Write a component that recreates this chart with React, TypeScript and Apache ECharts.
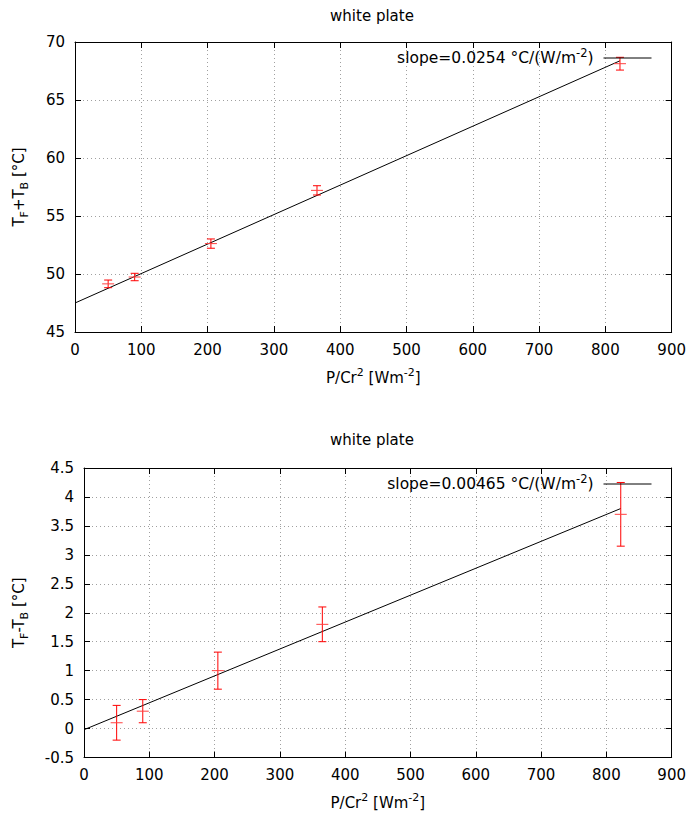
import React, { useEffect, useRef } from 'react';
import * as echarts from 'echarts';

// ---- data ----
const chartTitle = 'white plate';
const xPower = [50, 90, 205, 365, 822];
const sumValues = [49.15, 49.74, 52.62, 57.21, 68.13];
const sumErrors = [0.33, 0.32, 0.4, 0.4, 0.55];
const diffValues = [0.1, 0.3, 1.0, 1.8, 3.7];
const diffErrors = [0.3, 0.2, 0.32, 0.3, 0.55];
const fitX = [0, 822];
const sumFitY = [47.5, 68.38];
const diffFitY = [-0.02, 3.8];
const sumSlope = '0.0254';
const diffSlope = '0.00465';
const xRange = [0, 900, 100];
const sumRange = [45, 70, 5];
const diffRange = [-0.5, 4.5, 0.5];

const FONT = 'DejaVu Sans';
const FS = 15;
const RED = '#ff0000';

const richStyles = {
  sub: { fontSize: 11, fontFamily: FONT, color: '#000', verticalAlign: 'bottom' as const },
  sup: { fontSize: 11, fontFamily: FONT, color: '#000', verticalAlign: 'top' as const },
};

const nameStyle = {
  fontSize: FS,
  fontFamily: FONT,
  color: '#000',
  lineHeight: 22,
  rich: richStyles,
};

const axisLineStyle = { show: true, onZero: false, lineStyle: { color: '#000', width: 1 } };
const tickStyle = { show: true, inside: true, length: 6, lineStyle: { color: '#000', width: 1 } };
const labelStyle = { show: true, margin: 10, color: '#000', fontFamily: FONT, fontSize: FS };
const gridLineStyle = { show: true, lineStyle: { color: '#a0a0a0', width: 1, type: [1, 3] as number[] } };

function mainX(gridIndex: number, nameGap: number) {
  return {
    type: 'value', gridIndex, position: 'bottom',
    min: xRange[0], max: xRange[1], interval: xRange[2],
    name: 'P/Cr{sup|2} [Wm{sup|-2}]', nameLocation: 'middle', nameGap, nameTextStyle: nameStyle,
    axisLine: axisLineStyle, axisTick: tickStyle, axisLabel: labelStyle, splitLine: gridLineStyle,
  };
}
function mirrorX(gridIndex: number) {
  return {
    type: 'value', gridIndex, position: 'top',
    min: xRange[0], max: xRange[1], interval: xRange[2],
    axisLine: axisLineStyle, axisTick: tickStyle, axisLabel: { show: false }, splitLine: { show: false },
  };
}
function mainY(gridIndex: number, range: number[], name: string, nameGap: number) {
  return {
    type: 'value', gridIndex, position: 'left',
    min: range[0], max: range[1], interval: range[2],
    name, nameLocation: 'middle', nameGap, nameRotate: 90, nameTextStyle: nameStyle,
    axisLine: axisLineStyle, axisTick: tickStyle, axisLabel: labelStyle, splitLine: gridLineStyle,
  };
}
function mirrorY(gridIndex: number, range: number[]) {
  return {
    type: 'value', gridIndex, position: 'right',
    min: range[0], max: range[1], interval: range[2],
    axisLine: axisLineStyle, axisTick: tickStyle, axisLabel: { show: false }, splitLine: { show: false },
  };
}

function errorBarSeries(name: string, axisIndex: number, values: number[], errors: number[]) {
  const data = xPower.map((x, i) => [x, values[i], values[i] - errors[i], values[i] + errors[i]]);
  return {
    type: 'custom',
    name,
    xAxisIndex: axisIndex,
    yAxisIndex: axisIndex,
    data,
    encode: { x: 0, y: [1, 2, 3] },
    z: 3,
    renderItem: (_params: any, api: any) => {
      const x = api.value(0);
      const pc = api.coord([x, api.value(1)]);
      const pl = api.coord([x, api.value(2)]);
      const ph = api.coord([x, api.value(3)]);
      const cap = 4;
      const mk = 6;
      const st = { stroke: RED, lineWidth: 1, fill: null };
      return {
        type: 'group',
        children: [
          { type: 'line', shape: { x1: pl[0], y1: pl[1], x2: ph[0], y2: ph[1] }, style: st },
          { type: 'line', shape: { x1: ph[0] - cap, y1: ph[1], x2: ph[0] + cap, y2: ph[1] }, style: st },
          { type: 'line', shape: { x1: pl[0] - cap, y1: pl[1], x2: pl[0] + cap, y2: pl[1] }, style: st },
          { type: 'line', shape: { x1: pc[0] - mk, y1: pc[1], x2: pc[0] + mk, y2: pc[1] }, style: { stroke: '#ff4040', lineWidth: 1 } },
        ],
      };
    },
  };
}

function fitSeries(name: string, axisIndex: number, ys: number[]) {
  return {
    type: 'line',
    name,
    xAxisIndex: axisIndex,
    yAxisIndex: axisIndex,
    data: fitX.map((x, i) => [x, ys[i]]),
    symbol: 'none',
    showSymbol: false,
    lineStyle: { color: '#000', width: 1 },
    itemStyle: { color: '#000' },
    z: 2,
  };
}

const legendNames: Record<string, string> = {
  sumFit: `slope=${sumSlope} °C/(W/m{sup|-2})`,
  diffFit: `slope=${diffSlope} °C/(W/m{sup|-2})`,
};

function legendFor(name: string, top: number) {
  return {
    data: [{ name }],
    right: 37,
    top,
    padding: 0,
    align: 'right',
    orient: 'horizontal',
    itemWidth: 48,
    itemHeight: 14,
    selectedMode: false,
    itemStyle: { opacity: 0, borderWidth: 0 },
    lineStyle: { color: '#000', width: 1, opacity: 1 },
    formatter: (n: string) => legendNames[n],
    textStyle: {
      fontSize: 15.5, fontFamily: FONT, color: '#000', lineHeight: 22, padding: [0, 5, 0, 0],
      rich: {
        sup: { fontSize: 11.5, fontFamily: FONT, color: '#000', verticalAlign: 'top' as const },
      },
    },
  };
}

function titleText(y: number) {
  return {
    type: 'text',
    x: 372,
    y,
    style: {
      text: chartTitle,
      fontSize: FS,
      fontFamily: FONT,
      fill: '#000',
      textAlign: 'center',
      textVerticalAlign: 'middle',
      align: 'center',
      verticalAlign: 'middle',
    },
  };
}

export default function App() {
  const ref = useRef<HTMLDivElement>(null);
  useEffect(() => {
    if (!ref.current) return;
    const chart = echarts.init(ref.current, undefined, { renderer: 'svg' });
    chart.setOption({
      animation: false,
      backgroundColor: '#fff',
      grid: [
        { left: 72, top: 42, width: 600, height: 290 },
        { left: 82, top: 468, width: 590, height: 289.5 },
      ],
      xAxis: [mainX(0, 35), mirrorX(0), mainX(1, 34), mirrorX(1)],
      yAxis: [
        mainY(0, sumRange, 'T{sub|F}+T{sub|B} [°C]', 45),
        mirrorY(0, sumRange),
        mainY(1, diffRange, 'T{sub|F}-T{sub|B} [°C]', 54),
        mirrorY(1, diffRange),
      ],
      legend: [legendFor('sumFit', 47), legendFor('diffFit', 473)],
      graphic: [titleText(16), titleText(440)],
      series: [
        fitSeries('sumFit', 0, sumFitY),
        errorBarSeries('sumData', 0, sumValues, sumErrors),
        fitSeries('diffFit', 2, diffFitY),
        errorBarSeries('diffData', 2, diffValues, diffErrors),
      ],
    } as any);
    return () => chart.dispose();
  }, []);
  return (
    <div
      ref={ref}
      style={{ position: 'absolute', left: 0, top: 0, width: 689, height: 815, background: '#fff' }}
    />
  );
}
